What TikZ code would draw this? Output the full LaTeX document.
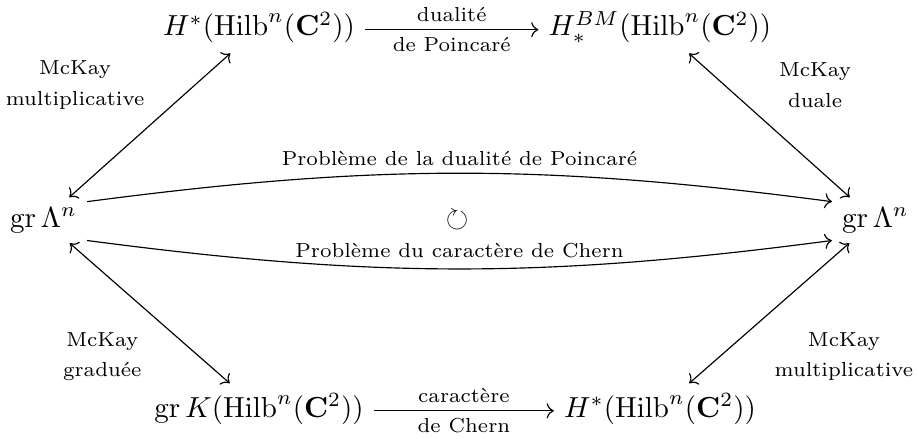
\documentclass[tikz,border=0pt]{standalone}
\usepackage{amsmath,amssymb}
\usetikzlibrary{positioning,calc,arrows.meta}

\begin{document}
\begin{tikzpicture}[>={Computer Modern Rightarrow},
    obj/.style={anchor=mid},
    lab/.style={font=\scriptsize, inner sep=2.5pt},
    side/.style={font=\scriptsize, align=center}]
    \useasboundingbox (0,0) rectangle (11.14,5.32);
    % objects
    \node[obj] (tl) at (3.14,4.96) {$H^*(\mathrm{Hilb}^n(\mathbf{C}^2))$};
    \node[obj] (tr) at (8.0,4.96) {$H_*^{BM}(\mathrm{Hilb}^n(\mathbf{C}^2))$};
    \node[anchor=mid west] (l) at (0,2.64) {$\operatorname{gr}\Lambda^n$};
    \node[anchor=mid east] (r) at (11.14,2.64) {$\operatorname{gr}\Lambda^n$};
    \node[obj] (bl) at (3.14,0.34) {$\operatorname{gr}K(\mathrm{Hilb}^n(\mathbf{C}^2))$};
    \node[obj] (br) at (8.0,0.34) {$H^*(\mathrm{Hilb}^n(\mathbf{C}^2))$};
    % horizontal maps
    \draw[->] (tl.mid east) -- (tr.mid west)
      node[lab, midway, above] {dualité} node[lab, midway, below] {de Poincaré};
    \draw[->] (bl.mid east) -- (br.mid west)
      node[lab, midway, above] {caractère} node[lab, midway, below] {de Chern};
    % McKay
    \draw[<->] (l) -- (tl);
    \draw[<->] (tr) -- (r);
    \draw[<->] (l) -- (bl);
    \draw[<->] (r) -- (br);
    \node[side] (mk1) at (0.91,4.29) {McKay\\[2.5pt] multiplicative};
    \node[side] (mk2) at (9.88,4.29) {McKay\\[2.5pt] duale};
    \node[side] (mk3) at (1.24,1.0) {McKay\\[2.5pt] graduée};
    \node[side] (mk4) at (10.23,1.0) {McKay\\[2.5pt] multiplicative};
    % the two problems
    \draw[->] ([yshift=6.7pt]l.mid east) to[bend left=7.5]
      node[lab, midway, above] {Problème de la dualité de Poincaré} ([yshift=6.7pt]r.mid west);
    \draw[->] ([yshift=-6.7pt]l.mid east) to[bend right=7.5]
      node[lab, midway, above, inner sep=3.5pt] {Problème du caractère de Chern} ([yshift=-6.7pt]r.mid west);
    \node (cyc) at (5.54,2.65) {$\circlearrowright$};
\end{tikzpicture}
\end{document}
